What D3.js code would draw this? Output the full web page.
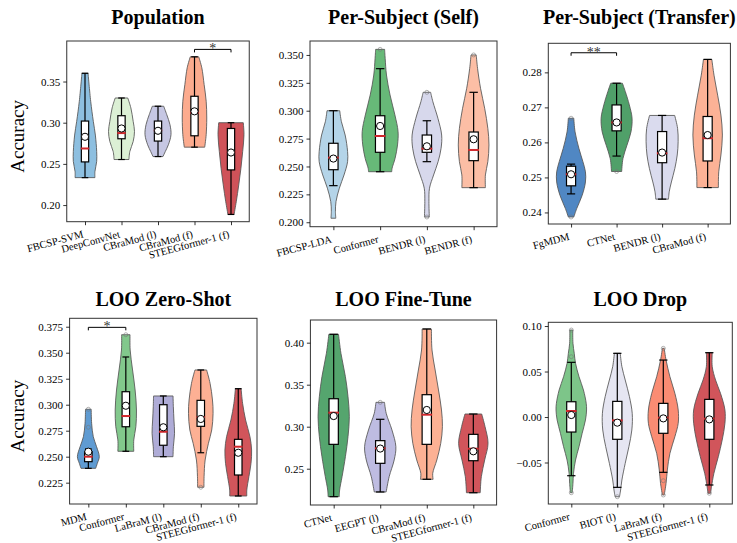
<!DOCTYPE html>
<html>
<head>
<meta charset="utf-8">
<script src="https://cdn.jsdelivr.net/npm/d3@7"></script>
<style>
  body { margin: 0; background: #fff; }
  svg { display: block; }
  text { font-family: "Liberation Serif", "Times New Roman", serif; }
</style>
</head>
<body>
<svg id="chart" width="737" height="543"></svg>
<script>
// ---------------- Population ----------------
const popCats = ["FBCSP-SVM", "DeepConvNet", "CBraMod (l)", "CBraMod (f)", "STEEGformer-1 (f)"];
const popColors = ["#8dbfe0", "#dcf0d5", "#c6c7e3", "#fcab8e", "#cf5259"];
// [lower whisker, Q1, median, Q3, upper whisker]
const popStats = [
  [0.2333, 0.2524, 0.2687, 0.3020, 0.3600],
  [0.2553, 0.2805, 0.2874, 0.3085, 0.3300],
  [0.2589, 0.2777, 0.2906, 0.3020, 0.3200],
  [0.2703, 0.2841, 0.3122, 0.3321, 0.3800],
  [0.1886, 0.2427, 0.2643, 0.2930, 0.3000]
];
const popMeans = [0.2829, 0.2930, 0.2902, 0.3138, 0.2638];
const popFliers = [[], [], [], [], []];
// kernel density profile: [accuracy, relative density]
const popDensity = [
  [[0.3600, 0.21], [0.3260, 0.39], [0.3016, 0.57], [0.2850, 0.71], [0.2650, 0.80], [0.2530, 0.80], [0.2406, 0.68], [0.2333, 0.68]],
  [[0.3300, 0.43], [0.3180, 0.64], [0.3016, 0.80], [0.2894, 0.89], [0.2772, 0.80], [0.2650, 0.57], [0.2553, 0.51]],
  [[0.3200, 0.39], [0.3098, 0.60], [0.2976, 0.82], [0.2854, 0.89], [0.2732, 0.71], [0.2650, 0.50], [0.2589, 0.34]],
  [[0.3800, 0.29], [0.3667, 0.50], [0.3463, 0.66], [0.3260, 0.80], [0.3057, 0.84], [0.2854, 0.80], [0.2772, 0.75], [0.2703, 0.70]],
  [[0.3000, 0.84], [0.2854, 0.89], [0.2650, 0.80], [0.2447, 0.68], [0.2244, 0.53], [0.2040, 0.36], [0.1886, 0.21]]
];
const popTicks = [0.20, 0.25, 0.30, 0.35];

// ---------------- Per-Subject (Self) ----------------
const selfCats = ["FBCSP-LDA", "Conformer", "BENDR (l)", "BENDR (f)"];
const selfColors = ["#b4d4e8", "#67b978", "#d7d8ec", "#fcbea5"];
const selfStats = [
  [0.2328, 0.2471, 0.2579, 0.2708, 0.3000],
  [0.2453, 0.2627, 0.2773, 0.2955, 0.3377],
  [0.2543, 0.2627, 0.2660, 0.2782, 0.2910],
  [0.2310, 0.2552, 0.2648, 0.2809, 0.3165]
];
const selfMeans = [0.2571, 0.2863, 0.2681, 0.2744];
const selfFliers = [[], [0.3550], [0.3165, 0.2047], [0.3500]];
const selfDensity = [
  [[0.3000, 0.34], [0.2901, 0.43], [0.2782, 0.63], [0.2633, 0.76], [0.2543, 0.76], [0.2424, 0.57], [0.2305, 0.32], [0.2185, 0.14], [0.2095, 0.11], [0.2036, 0.13]],
  [[0.3550, 0.24], [0.3469, 0.27], [0.3320, 0.34], [0.3141, 0.53], [0.2962, 0.79], [0.2812, 0.96], [0.2693, 0.93], [0.2573, 0.80], [0.2484, 0.64], [0.2453, 0.62]],
  [[0.3165, 0.20], [0.3081, 0.32], [0.2932, 0.59], [0.2782, 0.79], [0.2663, 0.76], [0.2543, 0.60], [0.2424, 0.36], [0.2305, 0.14], [0.2185, 0.11], [0.2047, 0.13]],
  [[0.3500, 0.14], [0.3380, 0.21], [0.3201, 0.37], [0.3022, 0.59], [0.2842, 0.76], [0.2693, 0.82], [0.2543, 0.76], [0.2424, 0.63], [0.2310, 0.63]]
];
const selfTicks = [0.200, 0.225, 0.250, 0.275, 0.300, 0.325, 0.350];

// ---------------- Per-Subject (Transfer) ----------------
const transCats = ["FgMDM", "CTNet", "BENDR (l)", "CBraMod (f)"];
const transColors = ["#5087c3", "#50a069", "#dadbee", "#fcb296"];
const transStats = [
  [0.2453, 0.2476, 0.2509, 0.2532, 0.2538],
  [0.2561, 0.2633, 0.2657, 0.2707, 0.2769],
  [0.2438, 0.2542, 0.2569, 0.2631, 0.2677],
  [0.2471, 0.2547, 0.2612, 0.2674, 0.2837]
];
const transMeans = [0.2509, 0.2657, 0.2571, 0.2621];
const transFliers = [[0.2669, 0.2387], [0.2517], [], []];
const transDensity = [
  [[0.2669, 0.15], [0.2630, 0.22], [0.2583, 0.43], [0.2545, 0.65], [0.2516, 0.79], [0.2487, 0.79], [0.2449, 0.61], [0.2411, 0.31], [0.2387, 0.15]],
  [[0.2769, 0.32], [0.2745, 0.48], [0.2707, 0.70], [0.2669, 0.85], [0.2630, 0.79], [0.2592, 0.57], [0.2554, 0.35], [0.2517, 0.28]],
  [[0.2677, 0.69], [0.2640, 0.85], [0.2602, 0.88], [0.2564, 0.83], [0.2526, 0.70], [0.2487, 0.51], [0.2459, 0.39], [0.2438, 0.35]],
  [[0.2837, 0.23], [0.2792, 0.35], [0.2735, 0.55], [0.2678, 0.73], [0.2621, 0.81], [0.2564, 0.73], [0.2516, 0.61], [0.2471, 0.59]]
];
const transTicks = [0.24, 0.25, 0.26, 0.27, 0.28];

// ---------------- LOO Zero-Shot ----------------
const zsCats = ["MDM", "Conformer", "LaBraM (l)", "CBraMod (f)", "STEEGformer-1 (f)"];
const zsColors = ["#5f9bd2", "#82c88c", "#afacd7", "#fdb094", "#d1555b"];
const zsStats = [
  [0.2388, 0.2452, 0.2500, 0.2548, 0.2575],
  [0.2552, 0.2788, 0.2891, 0.3125, 0.3459],
  [0.2500, 0.2610, 0.2740, 0.3000, 0.3084],
  [0.2538, 0.2792, 0.2879, 0.3042, 0.3334],
  [0.2122, 0.2324, 0.2596, 0.2667, 0.3154]
];
const zsMeans = [0.2548, 0.2990, 0.2783, 0.2863, 0.2538];
const zsFliers = [[0.2783, 0.2956], [0.3673], [], [0.2206], []];
const zsDensity = [
  [[0.2956, 0.19], [0.2821, 0.22], [0.2692, 0.33], [0.2596, 0.55], [0.2500, 0.73], [0.2436, 0.60], [0.2388, 0.49]],
  [[0.3673, 0.28], [0.3526, 0.29], [0.3334, 0.45], [0.3141, 0.62], [0.2949, 0.71], [0.2788, 0.67], [0.2661, 0.53], [0.2552, 0.53]],
  [[0.3084, 0.65], [0.2981, 0.67], [0.2853, 0.71], [0.2725, 0.75], [0.2596, 0.67], [0.2500, 0.65]],
  [[0.3334, 0.39], [0.3206, 0.62], [0.3045, 0.78], [0.2917, 0.82], [0.2757, 0.73], [0.2629, 0.51], [0.2468, 0.29], [0.2308, 0.22], [0.2206, 0.21]],
  [[0.3154, 0.19], [0.3013, 0.29], [0.2853, 0.49], [0.2692, 0.78], [0.2564, 0.89], [0.2436, 0.85], [0.2308, 0.71], [0.2179, 0.57], [0.2122, 0.57]]
];
const zsTicks = [0.225, 0.250, 0.275, 0.300, 0.325, 0.350, 0.375];

// ---------------- LOO Fine-Tune ----------------
const ftCats = ["CTNet", "EEGPT (l)", "CBraMod (f)", "STEEGformer-1 (f)"];
const ftColors = ["#55a56e", "#bebce1", "#fcb194", "#d1555b"];
const ftStats = [
  [0.2167, 0.2790, 0.3167, 0.3333, 0.4100],
  [0.2223, 0.2564, 0.2743, 0.2834, 0.3088],
  [0.2374, 0.2790, 0.3143, 0.3381, 0.4163],
  [0.2214, 0.2595, 0.2738, 0.2909, 0.3151]
];
const ftMeans = [0.3127, 0.2740, 0.3199, 0.2707];
const ftFliers = [[], [0.3290], [], []];
const ftDensity = [
  [[0.4100, 0.26], [0.3874, 0.39], [0.3595, 0.63], [0.3357, 0.77], [0.3119, 0.84], [0.2881, 0.77], [0.2643, 0.63], [0.2405, 0.45], [0.2246, 0.32], [0.2167, 0.30]],
  [[0.3290, 0.23], [0.3160, 0.32], [0.2961, 0.63], [0.2762, 0.84], [0.2604, 0.75], [0.2405, 0.48], [0.2223, 0.32]],
  [[0.4163, 0.25], [0.3913, 0.28], [0.3675, 0.45], [0.3437, 0.63], [0.3199, 0.79], [0.3000, 0.84], [0.2802, 0.75], [0.2604, 0.54], [0.2445, 0.32], [0.2374, 0.34]],
  [[0.3151, 0.45], [0.3000, 0.63], [0.2802, 0.79], [0.2604, 0.61], [0.2405, 0.43], [0.2214, 0.37]]
];
const ftTicks = [0.25, 0.30, 0.35, 0.40];

// ---------------- LOO Drop ----------------
const dropCats = ["Conformer", "BIOT (l)", "LaBraM (f)", "STEEGformer-1 (f)"];
const dropColors = ["#7dc589", "#e6e6f2", "#fa8c73", "#d1555b"];
const dropStats = [
  [-0.0645, -0.0165, 0.0066, 0.0168, 0.0601],
  [-0.0773, -0.0245, -0.0037, 0.0172, 0.0700],
  [-0.0608, -0.0179, -0.0007, 0.0150, 0.0626],
  [-0.0747, -0.0245, -0.0018, 0.0194, 0.0707]
];
const dropMeans = [0.0022, -0.0062, -0.0015, -0.0026];
const dropFliers = [[0.0663, 0.0956, -0.0832], [-0.0876], [0.0755, -0.0700, -0.0857], [-0.0838]];
const dropDensity = [
  [[0.0956, 0.08], [0.0810, 0.09], [0.0700, 0.16], [0.0590, 0.23], [0.0443, 0.42], [0.0297, 0.66], [0.0151, 0.81], [0.0077, 0.83], [-0.0033, 0.77], [-0.0179, 0.59], [-0.0326, 0.42], [-0.0473, 0.23], [-0.0619, 0.12], [-0.0729, 0.09], [-0.0832, 0.05]],
  [[0.0700, 0.16], [0.0553, 0.25], [0.0407, 0.43], [0.0223, 0.66], [0.0041, 0.81], [-0.0143, 0.79], [-0.0326, 0.63], [-0.0509, 0.43], [-0.0692, 0.25], [-0.0802, 0.18], [-0.0876, 0.12]],
  [[0.0755, 0.05], [0.0626, 0.15], [0.0443, 0.36], [0.0260, 0.63], [0.0077, 0.81], [-0.0069, 0.81], [-0.0216, 0.63], [-0.0399, 0.36], [-0.0582, 0.22], [-0.0729, 0.15], [-0.0857, 0.05]],
  [[0.0707, 0.16], [0.0553, 0.16], [0.0407, 0.34], [0.0260, 0.61], [0.0077, 0.85], [-0.0069, 0.85], [-0.0253, 0.70], [-0.0436, 0.49], [-0.0619, 0.25], [-0.0766, 0.12], [-0.0838, 0.07]]
];
const dropTicks = [-0.05, 0.00, 0.05, 0.10];

// significance brackets: [from index, to index, height, label]
const popSig = [[3, 4, 0.389, "*"]];
const transSig = [[0, 1, 0.2856, "**"]];
const zsSig = [[0, 1, 0.3744, "*"]];

// ---------------- layout of the six axes ----------------
const fmt2 = d => (d < 0 ? "\u2212" : "") + Math.abs(d).toFixed(2);
const fmt3 = d => d.toFixed(3);

const panels = [
  { title: "Population", ylabel: "Accuracy", cats: popCats, colors: popColors, stats: popStats, means: popMeans,
    fliers: popFliers, density: popDensity, ticks: popTicks, fmt: fmt2, sig: popSig,
    box: [66.75, 41, 249.25, 221.7], domain: [0.1798, 0.3992] },
  { title: "Per-Subject (Self)", cats: selfCats, colors: selfColors, stats: selfStats, means: selfMeans,
    fliers: selfFliers, density: selfDensity, ticks: selfTicks, fmt: fmt3, sig: [],
    box: [310, 41, 497, 226.7], domain: [0.196, 0.3625] },
  { title: "Per-Subject (Transfer)", cats: transCats, colors: transColors, stats: transStats, means: transMeans,
    fliers: transFliers, density: transDensity, ticks: transTicks, fmt: fmt2, sig: transSig,
    box: [548.3, 43.3, 730.4, 224], domain: [0.2367, 0.2883] },
  { title: "LOO Zero-Shot", ylabel: "Accuracy", cats: zsCats, colors: zsColors, stats: zsStats, means: zsMeans,
    fliers: zsFliers, density: zsDensity, ticks: zsTicks, fmt: fmt3, sig: zsSig,
    box: [69.6, 318.3, 257, 504], domain: [0.2045, 0.3831] },
  { title: "LOO Fine-Tune", cats: ftCats, colors: ftColors, stats: ftStats, means: ftMeans,
    fliers: ftFliers, density: ftDensity, ticks: ftTicks, fmt: fmt2, sig: [],
    box: [310.4, 320, 496.6, 505], domain: [0.2068, 0.427] },
  { title: "LOO Drop", cats: dropCats, colors: dropColors, stats: dropStats, means: dropMeans,
    fliers: dropFliers, density: dropDensity, ticks: dropTicks, fmt: fmt2, sig: [],
    box: [548.3, 322.3, 732.3, 504], domain: [-0.0956, 0.1041] }
];

const svg = d3.select("#chart");

panels.forEach(p => {
  const [x0, y0, x1, y1] = p.box;
  const n = p.cats.length;
  const x = d3.scaleLinear().domain([-0.5, n - 0.5]).range([x0, x1]);
  const y = d3.scaleLinear().domain(p.domain).range([y1, y0]);
  const step = x(1) - x(0);
  const halfMax = 0.4 * step;
  const g = svg.append("g");

  // violins
  p.density.forEach((prof, i) => {
    const cx = x(i);
    const area = d3.area()
      .y(d => y(d[0]))
      .x0(d => cx - d[1] * halfMax)
      .x1(d => cx + d[1] * halfMax)
      .curve(d3.curveCatmullRom.alpha(0.5));
    g.append("path")
      .datum(prof)
      .attr("d", area)
      .attr("fill", p.colors[i])
      .attr("stroke", "#555")
      .attr("stroke-width", 1)
      .attr("stroke-opacity", 0.85);
  });

  // box plots
  p.stats.forEach((s, i) => {
    const [lo, q1, med, q3, hi] = s;
    const cx = x(i);
    const bw = 0.1 * step, cw = 0.09 * step;
    const bg = g.append("g").attr("stroke", "#000").attr("stroke-width", 1.2);
    bg.append("line").attr("x1", cx).attr("x2", cx).attr("y1", y(lo)).attr("y2", y(q1));
    bg.append("line").attr("x1", cx).attr("x2", cx).attr("y1", y(q3)).attr("y2", y(hi));
    bg.append("line").attr("x1", cx - cw).attr("x2", cx + cw).attr("y1", y(lo)).attr("y2", y(lo));
    bg.append("line").attr("x1", cx - cw).attr("x2", cx + cw).attr("y1", y(hi)).attr("y2", y(hi));
    bg.append("rect").attr("x", cx - bw).attr("width", 2 * bw)
      .attr("y", y(q3)).attr("height", y(q1) - y(q3)).attr("fill", "#fff");
    g.append("line").attr("x1", cx - bw * 1.15).attr("x2", cx + bw * 1.15)
      .attr("y1", y(med)).attr("y2", y(med))
      .attr("stroke", "#d0262b").attr("stroke-width", 2);
    p.fliers[i].forEach(f => {
      g.append("circle").attr("cx", cx).attr("cy", y(f)).attr("r", 2)
        .attr("fill", "none").attr("stroke", "#777").attr("stroke-opacity", 0.7).attr("stroke-width", 0.8);
    });
    g.append("circle").attr("cx", cx).attr("cy", y(p.means[i])).attr("r", 3.6)
      .attr("fill", "#fff").attr("stroke", "#000").attr("stroke-width", 1);
  });

  // significance brackets
  p.sig.forEach(([a, b, h, lab]) => {
    const yy = y(h);
    g.append("path")
      .attr("d", `M${x(a)},${yy + 3}V${yy}H${x(b)}V${yy + 3}`)
      .attr("fill", "none").attr("stroke", "#000").attr("stroke-width", 1);
    g.append("text").attr("x", (x(a) + x(b)) / 2).attr("y", yy + 4)
      .attr("text-anchor", "middle").attr("font-size", 14).attr("fill", "#333").text(lab);
  });

  // frame
  g.append("rect").attr("x", x0).attr("y", y0).attr("width", x1 - x0).attr("height", y1 - y0)
    .attr("fill", "none").attr("stroke", "#333").attr("stroke-width", 1);

  // y axis
  const ya = g.append("g").attr("transform", `translate(${x0},0)`)
    .call(d3.axisLeft(y).tickValues(p.ticks).tickFormat(p.fmt).tickSize(3.5).tickPadding(3));
  ya.select(".domain").remove();
  ya.selectAll("line").attr("stroke", "#000").attr("stroke-width", 0.8);
  ya.selectAll("text").attr("font-size", 11).attr("fill", "#000")
    .attr("font-family", "'Liberation Serif', serif");

  // x axis ticks and rotated labels
  const xa = g.append("g").attr("transform", `translate(0,${y1})`)
    .call(d3.axisBottom(x).tickValues(d3.range(n)).tickFormat("").tickSize(3.5));
  xa.select(".domain").remove();
  xa.selectAll("line").attr("stroke", "#000").attr("stroke-width", 0.8);
  p.cats.forEach((c, i) => {
    const ax = x(i) - 1, ay = y1 + 15.5;
    g.append("text").attr("x", ax).attr("y", ay)
      .attr("transform", `rotate(-15,${ax},${ay})`)
      .attr("text-anchor", "end").attr("font-size", 10.5).attr("fill", "#000").text(c);
  });

  // title
  g.append("text").attr("x", (x0 + x1) / 2).attr("y", y0 < 100 ? 23.5 : 306)
    .attr("text-anchor", "middle").attr("font-size", 20).attr("font-weight", "bold").text(p.title);

  // y label
  if (p.ylabel) {
    const ly = (y0 + y1) / 2 + 5;
    g.append("text").attr("x", 17).attr("y", ly).attr("dy", "0.35em")
      .attr("transform", `rotate(-90,17,${ly})`)
      .attr("text-anchor", "middle").attr("font-size", 19).text(p.ylabel);
  }
});
</script>
</body>
</html>
